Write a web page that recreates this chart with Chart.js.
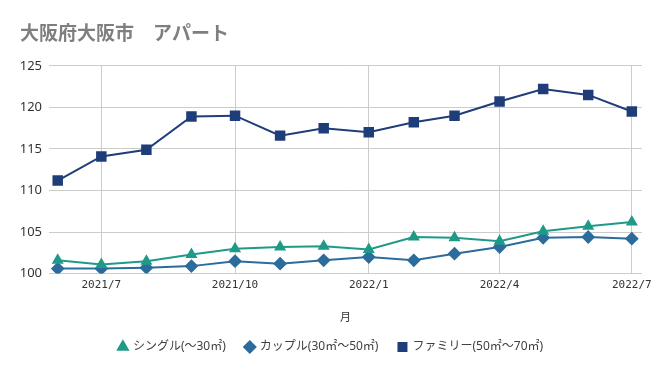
<!DOCTYPE html>
<html>
<head>
<meta charset="utf-8">
<script src="https://cdn.jsdelivr.net/npm/chart.js@4"></script>
<style>
  html, body { margin: 0; padding: 0; background: #fff; }
  #wrap { width: 661px; height: 372px; }
</style>
</head>
<body>
<div id="wrap"><canvas id="chart"></canvas></div>
<script>
const months = ['2021-06', '2021-07', '2021-08', '2021-09', '2021-10', '2021-11', '2021-12',
    '2022-01', '2022-02', '2022-03', '2022-04', '2022-05', '2022-06', '2022-07'];
const tickMonths = ['2021-07', '2021-10', '2022-01', '2022-04', '2022-07'];

const single = [101.6, 101.1, 101.5, 102.3, 103.0, 103.2, 103.3, 102.9, 104.4, 104.3, 103.9, 105.1, 105.7, 106.2];
const couple = [100.6, 100.6, 100.7, 100.9, 101.5, 101.2, 101.6, 102.0, 101.6, 102.4, 103.2, 104.3, 104.4, 104.2];
const family = [111.2, 114.1, 114.9, 118.9, 119.0, 116.6, 117.5, 117.0, 118.2, 119.0, 120.7, 122.2, 121.5, 119.5];

const seriesNames = ['シングル(～30㎡)', 'カップル(30㎡～50㎡)', 'ファミリー(50㎡～70㎡)'];

// month string -> day number, so the axis spaces months by real length
const dayOf = s => {
    const [y, m] = s.split('-').map(Number);
    return Date.UTC(y, m - 1, 1) / 86400000;
};
const toPoints = vals => vals.map((v, i) => ({ x: dayOf(months[i]), y: v }));

const FONT = "'Noto Sans', 'Noto Sans CJK JP', sans-serif";

new Chart(document.getElementById('chart'), {
    type: 'line',
    data: {
        datasets: [
            { label: seriesNames[0], data: toPoints(single), borderColor: '#1f9a89', backgroundColor: '#1f9a89',
              pointStyle: 'triangle', pointRadius: 5, pointHoverRadius: 5, borderWidth: 2 },
            { label: seriesNames[1], data: toPoints(couple), borderColor: '#2c6c9c', backgroundColor: '#2c6c9c',
              pointStyle: 'rectRot', pointRadius: 5.5, pointHoverRadius: 5.5, borderWidth: 2 },
            { label: seriesNames[2], data: toPoints(family), borderColor: '#1f3d79', backgroundColor: '#1f3d79',
              pointStyle: 'rect', pointRadius: 6, pointHoverRadius: 6, borderWidth: 2 }
        ]
    },
    options: {
        responsive: true, maintainAspectRatio: false, animation: false,
        layout: { padding: { left: 20, right: 19, top: 10, bottom: 9 } },
        plugins: {
            title: {
                display: true, align: 'start', text: '大阪府大阪市　アパート',
                color: '#7f7f7f', font: { family: FONT, size: 19, weight: 'bold' },
                padding: { top: 13, bottom: 20 }
            },
            legend: {
                position: 'bottom',
                labels: { color: '#404040', font: { family: FONT, size: 12 }, usePointStyle: true,
                          boxWidth: 8, boxHeight: 8, padding: 20 }
            },
            tooltip: { enabled: false }
        },
        scales: {
            x: {
                type: 'linear',
                min: dayOf('2021-06') - 6, max: dayOf('2022-07') + 7,
                afterBuildTicks: s => { s.ticks = tickMonths.map(m => ({ value: dayOf(m) })); },
                afterFit: s => { s.paddingLeft = 0; s.paddingRight = 0; },
                ticks: {
                    color: '#333', font: { family: 'DejaVu Sans Mono', size: 11 }, maxRotation: 0, padding: 5,
                    callback: v => { const d = new Date(v * 86400000); return d.getUTCFullYear() + '/' + (d.getUTCMonth() + 1); }
                },
                grid: { color: '#cccccc', drawTicks: false },
                border: { display: false },
                title: { display: true, text: '月', color: '#333', font: { family: FONT, size: 11 }, padding: { top: 14, bottom: -3 } }
            },
            y: {
                min: 100, max: 125,
                afterFit: s => { s.width = 29; },
                ticks: { stepSize: 5, color: '#333', font: { family: FONT, size: 13 }, padding: 7 },
                grid: { color: '#cccccc', drawTicks: false },
                border: { display: false }
            }
        }
    }
});
</script>
</body>
</html>
